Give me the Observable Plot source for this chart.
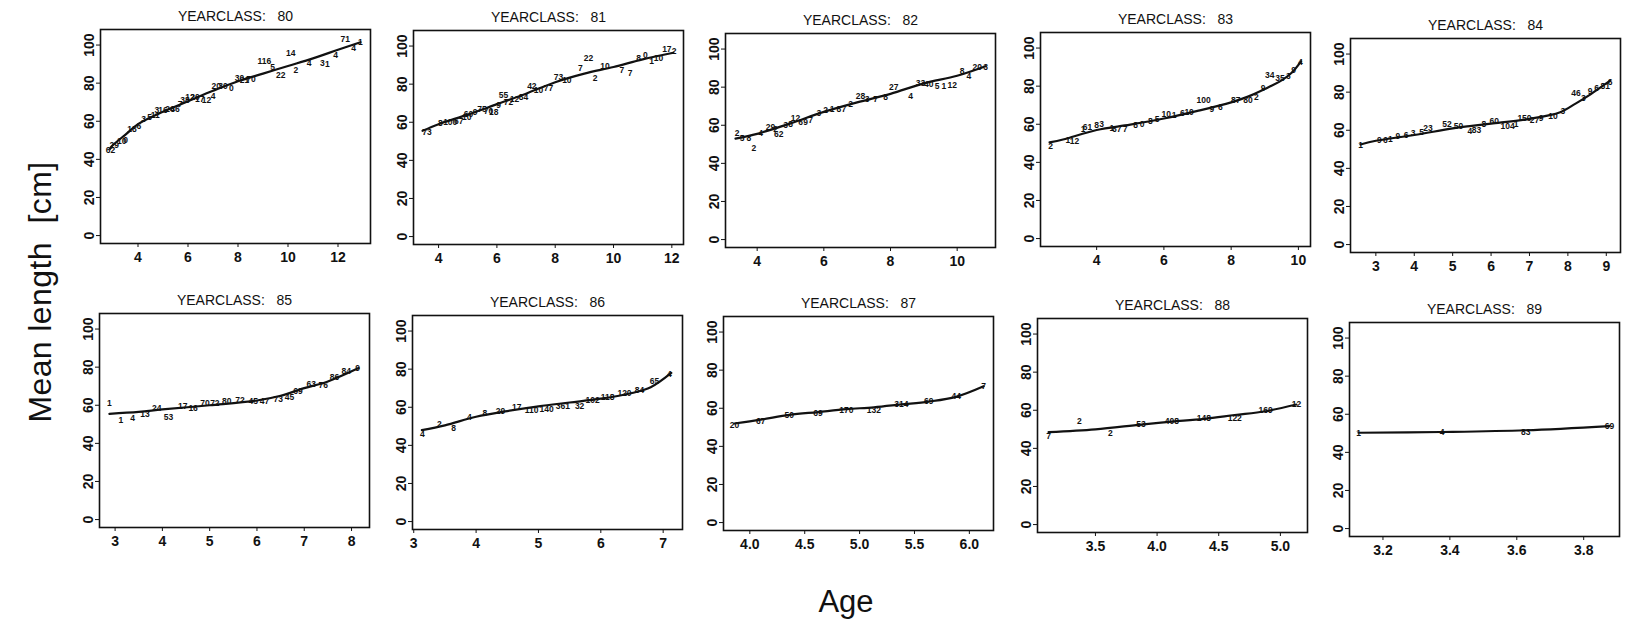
<!DOCTYPE html>
<html>
<head>
<meta charset="utf-8">
<script src="https://cdn.jsdelivr.net/npm/d3@7"></script>
<script src="https://cdn.jsdelivr.net/npm/@observablehq/plot@0.6"></script>
<style>
  body { margin: 0; background: #fff; }
  #page { position: relative; width: 1625px; height: 624px; overflow: hidden;
          font-family: "Liberation Sans", Arial, Helvetica, sans-serif; color: #111; }
  .panel { position: absolute; }
  .ytitle { position: absolute; left: 40px; top: 292px; font-size: 32px; line-height: 1;
            letter-spacing: 0.4px; white-space: nowrap; transform: translate(-50%, -50%) rotate(-90deg); }
  .xtitle { position: absolute; left: 846px; top: 586px; font-size: 31px; line-height: 1;
            white-space: nowrap; transform: translateX(-50%); }
</style>
</head>
<body>
<div id="page">
  <div class="ytitle">Mean length&nbsp; [cm]</div>
  <div class="xtitle">Age</div>
</div>
<script>
// Mean length at age by year class: [age, mean length (cm), number of fish]
const yearclasses = [80, 81, 82, 83, 84, 85, 86, 87, 88, 89];

const points80 = [[2.90,44.9,"62"],[3.05,47.5,"29"],[3.35,49.5,"10"],[3.50,50.2,"0"],[3.76,56.0,"18"],[4.03,57.2,"6"],
  [4.22,61.3,"3"],[4.46,62.1,"5"],[4.69,63.0,"11"],[4.75,65.7,"3"],[5.00,65.7,"16"],[5.28,66.5,"26"],[5.48,66.5,"46"],
  [5.68,68.8,"7"],[5.88,71.0,"38"],[6.08,72.7,"12"],[6.28,72.7,"20"],[6.47,71.3,"17"],[6.74,71.0,"12"],[7.00,73.1,"4"],
  [7.13,78.3,"20"],[7.40,78.3,"30"],[7.73,77.1,"0"],[8.06,82.7,"30"],[8.26,81.5,"21"],[8.52,81.9,"70"],[9.05,91.5,"116"],
  [9.38,88.6,"5"],[9.71,84.2,"22"],[10.11,95.6,"14"],[10.31,86.8,"2"],[10.84,90.7,"4"],[11.37,90.7,"3"],[11.57,90.0,"1"],
  [11.90,94.7,"4"],[12.29,103.0,"71"],[12.62,98.2,"4"],[12.89,101.2,"1"]];
const fit80 = [[2.88,45.5],[3,47.5],[3.5,53],[4,58.5],[5,65],[6,70.5],[7,76],[8,81],[9,85],[10,89],[11,93],[12,97.5],[12.9,101.5]];

const points81 = [[3.60,55.0,"73"],[4.06,59.5,"8"],[4.40,60.2,"100"],[4.69,60.7,"67"],[4.97,62.5,"10"],[5.03,64.3,"60"],
  [5.25,65.5,"9"],[5.49,67.0,"75"],[5.71,66.0,"70"],[5.89,65.2,"18"],[6.06,69.1,"9"],[6.23,74.1,"55"],[6.40,70.5,"72"],
  [6.60,72.0,"12"],[6.91,73.2,"84"],[7.20,79.1,"42"],[7.43,76.8,"10"],[7.77,78.0,"77"],[8.11,83.4,"73"],[8.40,82.1,"10"],
  [8.86,88.4,"7"],[9.14,93.8,"22"],[9.37,83.0,"2"],[9.71,89.3,"10"],[10.29,87.5,"7"],[10.57,85.7,"7"],[10.86,93.8,"8"],
  [11.09,95.2,"0"],[11.31,92.0,"1"],[11.54,93.8,"10"],[11.83,98.2,"17"],[12.08,97.3,"2"]];
const fit81 = [[3.45,55.5],[4,59],[5,64],[6,69.5],[7,75],[8,81],[9,85.5],[10,89],[11,93],[12.05,96.5]];

const points82 = [[3.40,55.9,"2"],[3.55,53.0,"5"],[3.75,53.0,"8"],[3.90,47.9,"2"],[4.10,55.6,"4"],[4.40,59.0,"29"],
  [4.55,58.1,"2"],[4.65,55.2,"62"],[4.85,59.8,"3"],[5.00,60.5,"8"],[5.15,63.8,"12"],[5.30,61.5,"6"],[5.45,61.8,"9"],
  [5.60,62.4,"7"],[5.85,66.2,"3"],[6.05,67.9,"2"],[6.25,68.2,"1"],[6.45,68.5,"8"],[6.60,68.4,"7"],[6.80,70.9,"2"],
  [7.10,75.2,"28"],[7.30,73.8,"3"],[7.55,73.5,"7"],[7.85,74.7,"8"],[8.10,79.8,"27"],[8.60,75.2,"4"],[8.90,82.1,"33"],
  [9.15,81.7,"40"],[9.40,80.3,"5"],[9.60,80.6,"1"],[9.85,81.2,"12"],[10.15,88.4,"8"],[10.35,85.5,"4"],[10.60,90.6,"20"],
  [10.85,90.6,"3"]];
const fit82 = [[3.35,53],[4,55.5],[5,61],[6,67],[7,72],[8,76.5],[9,82],[10,86],[10.85,91]];

const points83 = [[2.63,48.7,"2"],[3.14,51.5,"1"],[3.34,51.3,"12"],[3.60,57.5,"1"],[3.73,58.4,"61"],[4.00,59.3,"8"],
  [4.15,59.8,"3"],[4.45,57.8,"1"],[4.60,57.5,"67"],[4.85,57.5,"7"],[5.16,59.3,"8"],[5.35,60.2,"0"],[5.60,61.6,"8"],
  [5.80,62.5,"5"],[6.07,65.5,"10"],[6.30,64.6,"1"],[6.55,65.6,"6"],[6.75,66.5,"10"],[7.18,72.6,"100"],[7.43,68.1,"9"],
  [7.68,69.0,"6"],[8.14,72.6,"87"],[8.50,72.6,"80"],[8.75,74.3,"2"],[8.95,78.8,"9"],[9.15,85.8,"34"],[9.45,84.1,"35"],
  [9.70,85.0,"3"],[9.86,88.5,"9"],[10.06,92.5,"4"]];
const fit83 = [[2.6,50.5],[3,52],[4,57],[5,59.8],[6,63],[7,67],[8,71.5],[8.5,74.5],[9,78.5],[9.5,83],[9.8,87],[10.08,93]];

const points84 = [[2.60,52.2,"1"],[3.09,54.9,"9"],[3.25,55.0,"6"],[3.38,55.3,"1"],[3.57,57.0,"9"],[3.79,57.5,"6"],
  [3.97,58.4,"3"],[4.19,58.8,"5"],[4.36,61.1,"23"],[4.85,63.4,"52"],[5.15,62.3,"50"],[5.45,59.5,"4"],[5.62,59.8,"83"],
  [5.81,63.4,"8"],[6.08,64.6,"60"],[6.43,62.3,"104"],[6.65,63.4,"1"],[6.87,66.4,"150"],[7.13,65.5,"27"],[7.30,66.5,"9"],
  [7.61,67.3,"10"],[7.87,69.9,"3"],[8.21,79.3,"46"],[8.40,77.0,"3"],[8.58,80.5,"9"],[8.75,82.3,"6"],[8.97,83.2,"81"],
  [9.10,85.3,"6"]];
const fit84 = [[2.6,52.5],[3,54.5],[4,57.5],[5,61],[5.5,62.3],[6,63.5],[7,66],[7.8,69.5],[8.2,74],[8.6,79],[9.1,86]];

const points85 = [[2.88,60.9,"1"],[3.12,52.3,"1"],[3.37,53.4,"4"],[3.63,55.5,"13"],[3.88,58.2,"24"],[4.13,53.7,"53"],
  [4.43,59.4,"17"],[4.65,58.2,"16"],[4.90,61.2,"70"],[5.11,61.2,"72"],[5.36,62.3,"80"],[5.64,62.6,"72"],[5.92,62.3,"45"],
  [6.16,62.3,"47"],[6.45,63.0,"73"],[6.69,64.4,"45"],[6.87,67.6,"69"],[7.15,71.2,"63"],[7.40,70.6,"76"],[7.64,74.7,"86"],
  [7.89,77.8,"84"],[8.13,79.5,"9"]];
const fit85 = [[2.88,55.5],[3.5,56.5],[4,57.8],[5,60],[6,62.5],[6.5,65],[7,69],[7.5,72.5],[8.15,79.5]];

const points86 = [[3.14,46.0,"4"],[3.41,51.3,"2"],[3.64,49.2,"8"],[3.89,54.5,"4"],[4.14,57.0,"8"],[4.39,58.1,"29"],
  [4.65,60.2,"17"],[4.89,58.4,"110"],[5.13,58.8,"140"],[5.39,60.5,"361"],[5.66,60.5,"32"],[5.87,63.7,"102"],
  [6.11,65.1,"118"],[6.38,67.3,"120"],[6.62,69.0,"84"],[6.86,73.5,"65"],[7.10,77.5,"4"]];
const fit86 = [[3.13,48],[3.5,50.5],[4,55],[4.5,58],[5,60.5],[5.5,62.5],[6,64.5],[6.5,67.5],[6.8,70.5],[7.13,78]];

const points87 = [[3.86,51.1,"20"],[4.10,53.4,"67"],[4.36,56.4,"50"],[4.62,57.3,"69"],[4.88,58.7,"170"],[5.13,59.1,"132"],
  [5.38,62.3,"314"],[5.63,63.5,"69"],[5.88,66.1,"44"],[6.13,71.8,"7"]];
const fit87 = [[3.86,52],[4.1,54],[4.36,56.5],[4.62,58],[4.88,59.5],[5.13,60.5],[5.38,62],[5.63,63.5],[5.88,66],[6.13,71.5]];

const points88 = [[3.12,46.2,"7"],[3.37,54.1,"2"],[3.62,48.0,"2"],[3.87,52.4,"53"],[4.12,54.1,"408"],[4.38,55.9,"148"],
  [4.63,55.9,"122"],[4.88,59.8,"169"],[5.13,63.3,"12"]];
const fit88 = [[3.12,48.5],[3.5,50],[3.87,52.5],[4.12,54],[4.38,55.5],[4.63,57.5],[4.88,59.5],[5.13,63]];

const points89 = [[3.127,49.8,"1"],[3.377,50.7,"4"],[3.627,50.7,"83"],[3.877,53.7,"69"]];
const fit89 = [[3.127,50.3],[3.377,50.7],[3.627,51.6],[3.877,53.8]];

// Axis ticks and ranges
const yTicks = [0, 20, 40, 60, 80, 100];
const yDomain = [-4.16, 108.16];
const xTicks = [[4,6,8,10,12],[4,6,8,10,12],[4,6,8,10],[4,6,8,10],[3,4,5,6,7,8,9],
                [3,4,5,6,7,8],[3,4,5,6,7],[4,4.5,5,5.5,6],[3.5,4,4.5,5],[3.2,3.4,3.6,3.8]];
const xDomains = [[2.5,13.3],[3.14,12.4],[3.05,11.15],[2.33,10.36],[2.34,9.37],
                  [2.67,8.38],[2.98,7.31],[3.76,6.22],[3.03,5.22],[3.1,3.907]];
const allPoints = [points80, points81, points82, points83, points84, points85, points86, points87, points88, points89];
const allFits = [fit80, fit81, fit82, fit83, fit84, fit85, fit86, fit87, fit88, fit89];

// Where each panel's plot frame sits on the page (left, top)
const frameAt = [[100,29],[413,30],[725,33],[1040,32],[1350,38],[99,313],[412,315],[723,316],[1037,318],[1349,322]];

const FONT = '"Liberation Sans", Arial, Helvetica, sans-serif';
const ML = 38, MR = 3, MT = 30, MB = 30, FW = 270, FH = 214;
const page = document.getElementById("page");

yearclasses.forEach((yc, i) => {
  const decimals = xTicks[i].some(t => !Number.isInteger(t));
  const chart = Plot.plot({
    width: FW + ML + MR,
    height: FH + MT + MB,
    marginLeft: ML, marginRight: MR, marginTop: MT, marginBottom: MB,
    x: {domain: xDomains[i]},
    y: {domain: yDomain},
    style: {background: "transparent", fontFamily: FONT, fontSize: "14px", color: "#111", overflow: "visible"},
    marks: [
      Plot.frame({stroke: "#111", strokeWidth: 1.6}),
      Plot.axisX({ticks: xTicks[i], tickSize: 4, tickPadding: 5, label: null,
                  tickFormat: decimals ? d3.format(".1f") : d3.format("d"),
                  fontSize: 14, fontWeight: "bold"}),
      Plot.axisY({ticks: yTicks, tickSize: 4, tickPadding: 3, tickRotate: -90, label: null,
                  fontSize: 14, fontWeight: "bold"}),
      Plot.line(allFits[i], {x: d => d[0], y: d => d[1], curve: "catmull-rom", stroke: "#111", strokeWidth: 2.2}),
      Plot.text(allPoints[i], {x: d => d[0], y: d => d[1], text: d => d[2], fontSize: 8.5, fontWeight: "bold", fill: "#111"}),
      Plot.text([`YEARCLASS:\u00a0\u00a0\u00a0${yc}`], {frameAnchor: "top", lineAnchor: "bottom", dy: -9,
                  fontSize: 14, fill: "#111", ariaLabel: "panel-title"})
    ]
  });
  const holder = document.createElement("div");
  holder.className = "panel";
  holder.style.left = (frameAt[i][0] - ML) + "px";
  holder.style.top = (frameAt[i][1] - MT) + "px";
  holder.appendChild(chart);
  page.appendChild(holder);
  d3.select(chart).selectAll('g[aria-label="panel-title"] text').attr("letter-spacing", "0.8px");
});
</script>
</body>
</html>
